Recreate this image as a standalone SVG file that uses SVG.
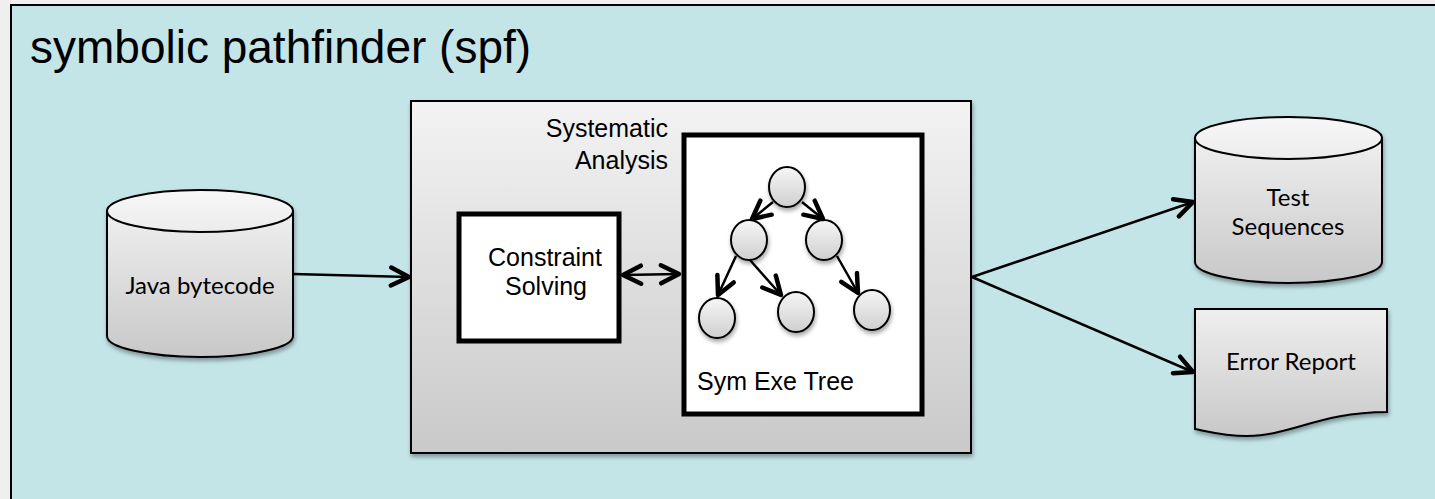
<svg xmlns="http://www.w3.org/2000/svg" width="1435" height="499" viewBox="0 0 1435 499">
<style>
.sans{font-family:"Liberation Sans",Arial,sans-serif;fill:#000}
.gill{font-family:Lato,"Noto Sans",sans-serif;fill:#000}
.conn{stroke:#000;stroke-width:2.5;fill:none}
.tree{stroke:#000;stroke-width:2.5;fill:none}
.node{stroke:#000;stroke-width:2}
</style>
<defs>
<linearGradient id="gBox" x1="0" y1="0" x2="0" y2="1"><stop offset="0" stop-color="#f3f3f3"/><stop offset="1" stop-color="#c9c9c9"/></linearGradient>
<linearGradient id="gCyl" x1="0" y1="0" x2="0" y2="1"><stop offset="0" stop-color="#efefef"/><stop offset="1" stop-color="#c8c8c8"/></linearGradient>
<linearGradient id="gTop" x1="0" y1="0" x2="0" y2="1"><stop offset="0" stop-color="#f7f7f7"/><stop offset="1" stop-color="#ececec"/></linearGradient>
<linearGradient id="gCirc" x1="0" y1="0" x2="0" y2="1"><stop offset="0" stop-color="#f6f6f6"/><stop offset="1" stop-color="#cfcfcf"/></linearGradient>
<filter id="sh" x="-10%" y="-10%" width="130%" height="130%"><feDropShadow dx="1" dy="3" stdDeviation="2" flood-color="#000" flood-opacity="0.35"/></filter>
<marker id="ah" markerUnits="userSpaceOnUse" markerWidth="28" markerHeight="28" viewBox="-4 -4 28 28" refX="19" refY="10" orient="auto-start-reverse"><path d="M1,1 L19,10 L1,19" fill="none" stroke="#000" stroke-width="4.5" stroke-linecap="round" stroke-linejoin="round"/></marker>
</defs>
<rect x="0" y="0" width="1435" height="499" fill="#efefef"/>
<rect id="frame" x="11" y="5" width="1500" height="600" fill="#c4e5e8" stroke="#000" stroke-width="2"/>
<text class="sans" x="30" y="63" font-size="46">symbolic pathfinder (spf)</text>

<g id="spf-analysis">
<rect x="411" y="101" width="560" height="352" fill="url(#gBox)" stroke="#000" stroke-width="2" filter="url(#sh)"/>
<text class="sans" font-size="25" text-anchor="end"><tspan x="668" y="137">Systematic</tspan><tspan x="668" y="169">Analysis</tspan></text>
</g>

<g id="java-bytecode" filter="url(#sh)">
<path d="M107,211 L107,336 A93,21 0 0 0 293,336 L293,211 Z" fill="url(#gCyl)" stroke="#000" stroke-width="2"/>
<ellipse cx="200" cy="211" rx="93" ry="21" fill="url(#gTop)" stroke="#000" stroke-width="2"/>
</g>
<text class="gill" x="200" y="294" font-size="24" text-anchor="middle">Java bytecode</text>

<g id="constraint-solving">
<rect x="459" y="214" width="160" height="127" fill="#fff" stroke="#000" stroke-width="5"/>
<text class="sans" font-size="25" text-anchor="middle"><tspan x="545" y="266">Constraint</tspan><tspan x="546" y="295">Solving</tspan></text>
</g>

<g id="sym-exe-tree">
<rect x="684" y="135" width="238" height="279" fill="#fff" stroke="#000" stroke-width="5"/>
<text class="sans" x="697" y="390" font-size="25">Sym Exe Tree</text>
<g filter="url(#sh)">
<ellipse class="node" cx="787" cy="187" rx="18" ry="20" fill="url(#gCirc)"/>
<ellipse class="node" cx="749" cy="240" rx="18" ry="20" fill="url(#gCirc)"/>
<ellipse class="node" cx="824" cy="240" rx="18" ry="20" fill="url(#gCirc)"/>
<ellipse class="node" cx="717" cy="318" rx="18" ry="20" fill="url(#gCirc)"/>
<ellipse class="node" cx="796" cy="312" rx="18" ry="20" fill="url(#gCirc)"/>
<ellipse class="node" cx="872" cy="310" rx="18" ry="20" fill="url(#gCirc)"/>
</g>
<g>
<line class="tree" x1="773" y1="202" x2="752" y2="219" marker-end="url(#ah)"/>
<line class="tree" x1="802" y1="202" x2="823" y2="219" marker-end="url(#ah)"/>
<line class="tree" x1="736" y1="256" x2="718" y2="295" marker-end="url(#ah)"/>
<line class="tree" x1="750" y1="260" x2="781" y2="295" marker-end="url(#ah)"/>
<line class="tree" x1="837" y1="256" x2="858" y2="293" marker-end="url(#ah)"/>
</g>
</g>

<g id="test-sequences" filter="url(#sh)">
<path d="M1195,138 L1195,262 A93.5,21 0 0 0 1382,262 L1382,138 Z" fill="url(#gCyl)" stroke="#000" stroke-width="2"/>
<ellipse cx="1288.5" cy="138" rx="93.5" ry="21" fill="url(#gTop)" stroke="#000" stroke-width="2"/>
</g>
<text class="gill" font-size="24" text-anchor="middle"><tspan x="1288" y="206">Test</tspan><tspan x="1288" y="235">Sequences</tspan></text>

<g id="error-report">
<path d="M1195,309 H1387 V412 C1320,412 1290,436 1247,436 C1225,436 1210,432 1195,429 Z" fill="url(#gCyl)" stroke="#000" stroke-width="2" filter="url(#sh)"/>
<text class="gill" x="1291" y="370" font-size="24" text-anchor="middle">Error Report</text>
</g>

<g id="connectors">
<line class="conn" x1="293" y1="274" x2="409" y2="277" marker-end="url(#ah)"/>
<line class="conn" x1="623" y1="275" x2="679" y2="274" marker-start="url(#ah)" marker-end="url(#ah)"/>
<line class="conn" x1="972" y1="277" x2="1193" y2="202" marker-end="url(#ah)"/>
<line class="conn" x1="972" y1="277" x2="1193" y2="372" marker-end="url(#ah)"/>
</g>
</svg>
